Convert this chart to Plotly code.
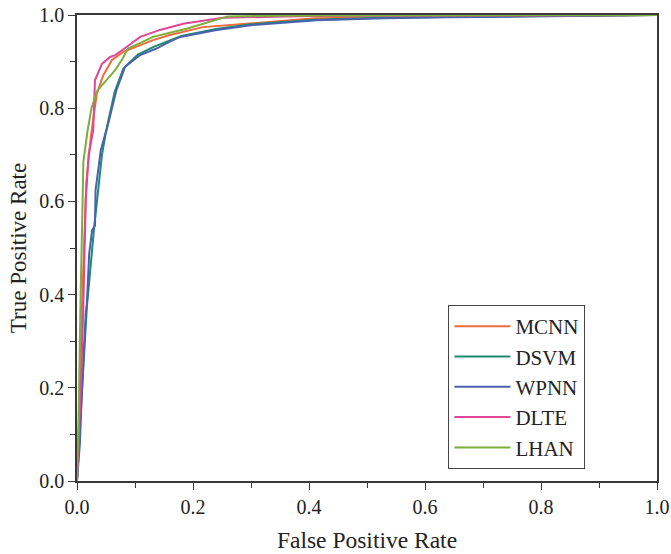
import plotly.graph_objects as go

# ---- data ----
mcnn_x = [0, 0.004, 0.008, 0.012, 0.016, 0.024, 0.034, 0.045, 0.060, 0.080, 0.109, 0.131, 0.160, 0.217, 0.31, 0.41, 0.6, 0.8, 1.0]
mcnn_y = [0, 0.15, 0.35, 0.52, 0.64, 0.74, 0.83, 0.87, 0.903, 0.921, 0.935, 0.946, 0.957, 0.974, 0.983, 0.993, 0.996, 0.998, 1.0]

dsvm_x = [0, 0.005, 0.011, 0.017, 0.024, 0.030, 0.037, 0.043, 0.050, 0.065, 0.080, 0.105, 0.133, 0.16, 0.18, 0.24, 0.30, 0.41, 0.53, 0.7, 1.0]
dsvm_y = [0, 0.10, 0.244, 0.373, 0.47, 0.55, 0.63, 0.70, 0.75, 0.835, 0.885, 0.915, 0.932, 0.946, 0.955, 0.97, 0.98, 0.99, 0.994, 0.997, 1.0]

wpnn_x = [0, 0.005, 0.008, 0.012, 0.015, 0.017, 0.021, 0.026, 0.031, 0.032, 0.041, 0.049, 0.051, 0.068, 0.083, 0.109, 0.137, 0.16, 0.178, 0.241, 0.30, 0.413, 0.53, 0.64, 0.8, 1.0]
wpnn_y = [0, 0.08, 0.18, 0.30, 0.36, 0.38, 0.488, 0.538, 0.548, 0.624, 0.71, 0.746, 0.753, 0.839, 0.889, 0.914, 0.928, 0.943, 0.953, 0.968, 0.978, 0.989, 0.993, 0.995, 0.997, 1.0]

dlte_x = [0, 0.004, 0.008, 0.011, 0.015, 0.020, 0.028, 0.031, 0.043, 0.057, 0.066, 0.086, 0.10, 0.109, 0.143, 0.183, 0.22, 0.252, 0.4, 1.0]
dlte_y = [0, 0.12, 0.25, 0.38, 0.60, 0.70, 0.753, 0.86, 0.895, 0.91, 0.914, 0.932, 0.946, 0.953, 0.968, 0.981, 0.988, 0.994, 0.998, 1.0]

lhan_x = [0, 0.003, 0.006, 0.009, 0.011, 0.018, 0.025, 0.034, 0.05, 0.066, 0.078, 0.088, 0.114, 0.131, 0.19, 0.22, 0.247, 0.26, 0.4, 1.0]
lhan_y = [0, 0.15, 0.38, 0.55, 0.685, 0.75, 0.80, 0.836, 0.86, 0.882, 0.905, 0.928, 0.943, 0.953, 0.971, 0.982, 0.993, 0.997, 0.999, 1.0]

names = ["MCNN", "DSVM", "WPNN", "DLTE", "LHAN"]
colors = ["#F26A3B", "#1E8A6C", "#4A62AE", "#E0479A", "#7BAE3A"]
xs = [mcnn_x, dsvm_x, wpnn_x, dlte_x, lhan_x]
ys = [mcnn_y, dsvm_y, wpnn_y, dlte_y, lhan_y]

x_tick_vals = [0.0, 0.2, 0.4, 0.6, 0.8, 1.0]
x_tick_text = ["0.0", "0.2", "0.4", "0.6", "0.8", "1.0"]
y_tick_vals = [0.0, 0.2, 0.4, 0.6, 0.8, 1.0]
y_tick_text = ["0.0", "0.2", "0.4", "0.6", "0.8", "1.0"]

FONT = "Liberation Serif, Times New Roman, serif"

fig = go.Figure()
for n, c, x, y in zip(names, colors, xs, ys):
    fig.add_trace(go.Scatter(x=x, y=y, mode="lines", name=n,
                             line=dict(color=c, width=2)))

axis_common = dict(
    range=[0, 1], showgrid=False, zeroline=False, automargin=False,
    showline=True, linecolor="#3a3a3a", linewidth=1.5, mirror=True,
    ticks="outside", ticklen=7, tickwidth=1.2, tickcolor="#3a3a3a",
    tickfont=dict(family=FONT, size=20, color="#222"),
    minor=dict(ticks="outside", ticklen=5, tickwidth=1.2, tickcolor="#3a3a3a", dtick=0.1, showgrid=False),
)

fig.update_xaxes(**axis_common, tickvals=x_tick_vals, ticktext=x_tick_text,
                 title=dict(text="False Positive Rate", font=dict(family=FONT, size=23.5, color="#222"), standoff=15))
fig.update_yaxes(**axis_common, tickvals=y_tick_vals, ticktext=y_tick_text,
                 title=dict(text="True Positive Rate", font=dict(family=FONT, size=23, color="#222"), standoff=6))

fig.update_layout(
    width=671, height=554,
    margin=dict(l=77, r=14, t=15, b=73, autoexpand=False),
    paper_bgcolor="white", plot_bgcolor="white",
    showlegend=True,
    legend=dict(x=0.64, y=0.378, xanchor="left", yanchor="top",
                bgcolor="white", bordercolor="#444", borderwidth=1.2,
                font=dict(family=FONT, size=21, color="#222"),
                itemwidth=56, tracegroupgap=0),
)

fig.write_html("out.html", config={"displayModeBar": False},
               post_script="document.body.style.margin='0';")
